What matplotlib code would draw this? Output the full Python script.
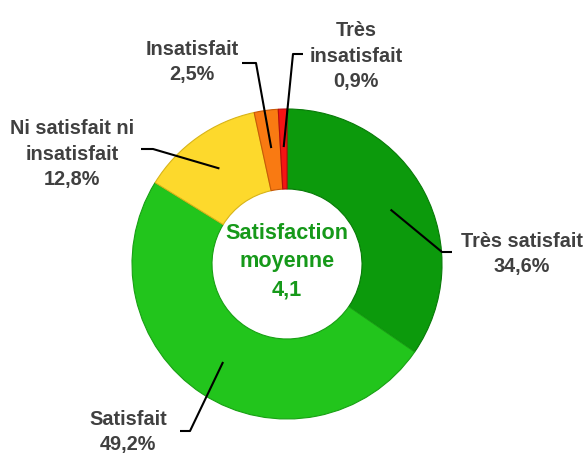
import numpy as np
import matplotlib.pyplot as plt

labels = ['Très satisfait', 'Satisfait', 'Ni satisfait ni\ninsatisfait', 'Insatisfait', 'Très\ninsatisfait']
values = [34.6, 49.2, 12.8, 2.5, 0.9]
colors = ['#0c9a0c', '#22c51c', '#fdd92c', '#f97a12', '#f51414']
edges = ['#087a08', '#18a014', '#d8b418', '#c85a08', '#b80c0c']
mean_score = 4.1

# layout (pixel space, y up)
W, H = 585, 456
cx, cy = 287, 191
r_out, r_in = 155, 75
# label text anchor, elbow point, end of horizontal line
text_pos = [(522, 202), (128, 24), (72, 302), (192, 394), (356, 400)]
elbow = [(442, 203), (190, 24), (153, 306), (256, 392), (293, 401)]
hend = [(452, 203), (180, 24), (141, 306), (242, 392), (303, 401)]

fam = ['Liberation Sans', 'DejaVu Sans']

fig = plt.figure(figsize=(5.85, 4.56), dpi=100)
ax = fig.add_axes([0, 0, 1, 1])

wedges, _ = ax.pie(values, colors=colors, startangle=90, counterclock=False,
                   radius=r_out, center=(cx, cy), frame=True,
                   wedgeprops=dict(width=r_out - r_in, linewidth=0.8))
for w, ec in zip(wedges, edges):
    w.set_edgecolor(ec)
ax.set_xlim(0, W)
ax.set_ylim(0, H)
ax.set_aspect('equal')
ax.axis('off')

for i, w in enumerate(wedges):
    ang = np.deg2rad((w.theta1 + w.theta2) / 2)
    rr = (r_out + r_in) / 2 + 2
    sx, sy = cx + rr * np.cos(ang), cy + rr * np.sin(ang)
    ax.plot([sx, elbow[i][0], hend[i][0]], [sy, elbow[i][1], hend[i][1]],
            color='black', lw=1.5, solid_capstyle='butt')
    pct = f'{values[i]:.1f}%'.replace('.', ',')
    ax.text(text_pos[i][0], text_pos[i][1], labels[i] + '\n' + pct,
            ha='center', va='center', fontsize=14.3, fontweight='bold',
            color='#404040', family=fam, linespacing=1.42)

ax.text(cx, cy + 3, 'Satisfaction\nmoyenne\n' + f'{mean_score:.1f}'.replace('.', ','),
        ha='center', va='center', fontsize=15.6, fontweight='bold',
        color='#16991a', family=fam, linespacing=1.45)

fig.savefig('out.png', dpi=100)
